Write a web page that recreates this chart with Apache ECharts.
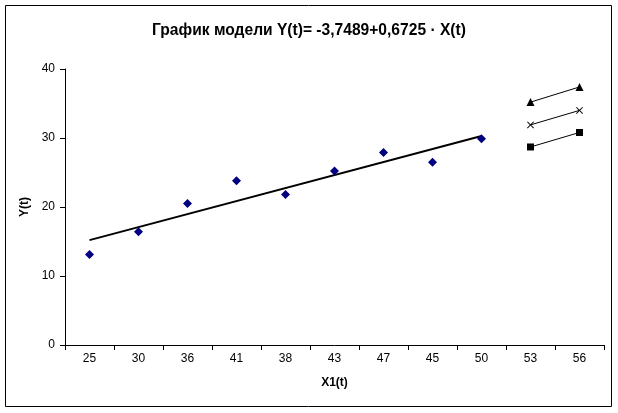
<!DOCTYPE html>
<html>
<head>
<meta charset="utf-8">
<script src="https://cdn.jsdelivr.net/npm/echarts@6/dist/echarts.min.js"></script>
<style>
html,body{margin:0;padding:0;background:#fff;}
#c{width:618px;height:413px;}
</style>
</head>
<body>
<div id="c"></div>
<script>
const categories = ['25','30','36','41','38','43','47','45','50','53','56'];
const actual = [13.1, 16.4, 20.5, 23.8, 21.8, 25.2, 27.9, 26.5, 29.9, null, null];
const trend = [15.2, null, null, null, null, null, null, null, 30.3, null, null];
const upper = [null, null, null, null, null, null, null, null, null, 35.2, 37.4];
const forecast = [null, null, null, null, null, null, null, null, null, 31.9, 34.0];
const lower = [null, null, null, null, null, null, null, null, null, 28.7, 30.8];

const crossPath = 'path://M0,1L1,0L5,4L9,0L10,1L6,5L10,9L9,10L5,6L1,10L0,9L4,5Z';
const font = 'Arial, "Liberation Sans", sans-serif';

const chart = echarts.init(document.getElementById('c'));
chart.setOption({
  animation: false,
  backgroundColor: '#fff',
  title: {
    text: 'График модели Y(t)= -3,7489+0,6725 · X(t)',
    left: 'center', top: 18,
    textStyle: {fontFamily: font, fontSize: 15.6, fontWeight: 'bold', color: '#000'}
  },
  graphic: [{
    type: 'rect', silent: true,
    shape: {x: 5.5, y: 5.5, width: 606, height: 401},
    style: {fill: 'none', stroke: '#000', lineWidth: 1}
  }],
  grid: {left: 65, right: 14, top: 69, bottom: 68},
  xAxis: {
    type: 'category', data: categories, boundaryGap: true,
    name: 'X1(t)', nameLocation: 'middle', nameGap: 32,
    nameTextStyle: {fontFamily: font, fontSize: 12, fontWeight: 'bold', color: '#000'},
    axisLine: {lineStyle: {color: '#000', width: 1}},
    axisTick: {show: true, length: 5, interval: 0, lineStyle: {color: '#000'}},
    axisLabel: {fontFamily: font, fontSize: 12, color: '#000', margin: 8, interval: 0},
    splitLine: {show: false}
  },
  yAxis: {
    type: 'value', min: 0, max: 40, interval: 10,
    name: 'Y(t)', nameLocation: 'middle', nameGap: 34, nameRotate: 90,
    nameTextStyle: {fontFamily: font, fontSize: 12, fontWeight: 'bold', color: '#000'},
    axisLine: {show: true, lineStyle: {color: '#000', width: 1}},
    axisTick: {show: true, length: 5, lineStyle: {color: '#000'}},
    axisLabel: {fontFamily: font, fontSize: 12, color: '#000', margin: 10},
    splitLine: {show: false}
  },
  series: [
    {
      type: 'line', data: trend, connectNulls: true, symbol: 'none',
      lineStyle: {color: '#000', width: 2}, z: 2
    },
    {
      type: 'scatter', data: actual, symbol: 'diamond', symbolSize: 9,
      itemStyle: {color: '#000080', opacity: 1}, z: 3
    },
    {
      type: 'line', data: upper, symbol: 'triangle', symbolSize: 8, showAllSymbol: true,
      lineStyle: {color: '#000', width: 1}, itemStyle: {color: '#000'}
    },
    {
      type: 'line', data: forecast, symbol: crossPath, symbolSize: 7, showAllSymbol: true,
      lineStyle: {color: '#000', width: 1}, itemStyle: {color: '#000'}
    },
    {
      type: 'line', data: lower, symbol: 'rect', symbolSize: 7, showAllSymbol: true,
      lineStyle: {color: '#000', width: 1}, itemStyle: {color: '#000'}
    }
  ]
});
</script>
</body>
</html>
